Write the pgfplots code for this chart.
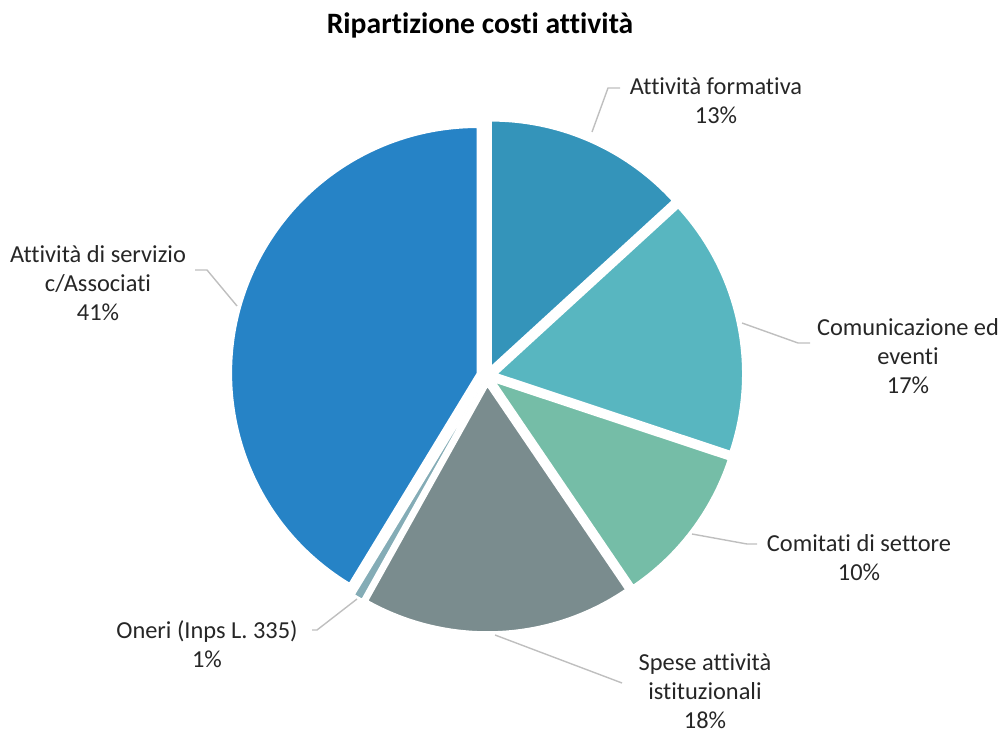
\documentclass[border=0pt]{standalone}
\usepackage{fontspec}
\setmainfont{Carlito}[Ligatures=NoCommon]
\usepackage{pgfplots}
\usepackage{pgfplotstable}
\pgfplotsset{compat=1.18}
\definecolor{pc0}{HTML}{3494BA}
\definecolor{pc1}{HTML}{58B6C0}
\definecolor{pc2}{HTML}{75BDA7}
\definecolor{pc3}{HTML}{7A8C8E}
\definecolor{pc4}{HTML}{84ACB6}
\definecolor{pc5}{HTML}{2683C6}
\definecolor{leadc}{HTML}{BFBFBF}
\tikzset{
  lbl/.style={align=center, font=\fontsize{12.2bp}{14.5bp}\selectfont, text=black!85},
  leader/.style={draw=leadc, line width=0.7bp}}
\pgfplotstableread[col sep=comma]{
name,value
Attività formativa,13.2
Comunicazione ed eventi,16.9
Comitati di settore,10.4
Spese attività istituzionali,17.6
Oneri (Inps L. 335),0.6
Attività di servizio c/Associati,41.3
}\piedata
\begin{document}
\begin{tikzpicture}
\begin{axis}[hide axis, scale only axis, width=499bp, height=366.5bp,
  xmin=0, xmax=998, ymin=0, ymax=733, clip=false]
\pgfmathsetmacro\cum{90}
\pgfplotsforeachungrouped \i in {0,...,5}{%
  \pgfplotstablegetelem{\i}{value}\of\piedata
  \pgfmathsetmacro\val{\pgfplotsretval}%
  \pgfmathsetmacro\aend{\cum - 3.6*\val}%
  \pgfmathsetmacro\amid{(\cum+\aend)/2}%
  \pgfmathsetmacro\ox{487 + 10*cos(\amid)}%
  \pgfmathsetmacro\oy{357 + 10*sin(\amid)}%
  \edef\temp{\noexpand\fill[color=pc\i, draw=white, line width=0.75bp] (axis cs:\ox,\oy) -- ++(\cum:123bp) arc[start angle=\cum, end angle=\aend, radius=123bp] -- cycle;}%
  \temp
  \global\let\cum\aend
}
\draw[leader] (axis cs:592,601) -- (axis cs:608,645) -- (axis cs:620,645);
\draw[leader] (axis cs:742,410) -- (axis cs:798,390) -- (axis cs:810,390);
\draw[leader] (axis cs:692,199) -- (axis cs:747,189) -- (axis cs:757,189);
\draw[leader] (axis cs:495,98) -- (axis cs:622,50);
\draw[leader] (axis cs:357,134) -- (axis cs:317,103) -- (axis cs:312,103);
\draw[leader] (axis cs:237,427) -- (axis cs:207,463) -- (axis cs:195,463);
\node[lbl] at (axis cs:716,632) {Attività formativa\\13\%};
\node[lbl] at (axis cs:908,377) {Comunicazione ed\\eventi\\17\%};
\node[lbl] at (axis cs:859,175) {Comitati di settore\\10\%};
\node[lbl] at (axis cs:705,42) {Spese attività\\istituzionali\\18\%};
\node[lbl] at (axis cs:207,89) {Oneri (Inps L. 335)\\1\%};
\node[lbl] at (axis cs:98,449.5) {Attività di servizio\\c/Associati\\41\%};
\node[font=\bfseries\fontsize{14.8bp}{17bp}\selectfont] at (axis cs:480,708) {Ripartizione costi attività};
\end{axis}
\pgfresetboundingbox
\useasboundingbox (current axis.south west) rectangle (current axis.north east);
\end{tikzpicture}
\end{document}
